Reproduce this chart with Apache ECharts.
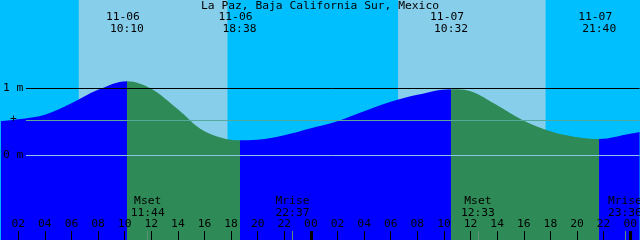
<!DOCTYPE html>
<html><head><meta charset="utf-8">
<script src="https://cdn.jsdelivr.net/npm/echarts@6/dist/echarts.min.js"></script>
<style>html,body{margin:0;padding:0;background:#00BFFF}#c{width:640px;height:240px}</style>
</head><body><div id="c"></div>
<script>
// ---- data ----
const chartTitle = 'La Paz, Baja California Sur, Mexico';
// hours since 11-06 00:00 local
const tideHours  = [0.7, 2, 4, 6, 8, 10.167, 12, 14, 16, 18.633, 20, 22, 24, 26, 28, 30, 32, 34.533, 36, 38, 40, 42, 44, 45.667, 48, 48.7];
const tideLevels = [0.512, 0.54, 0.61, 0.78, 0.98, 1.109, 0.997, 0.69, 0.363, 0.228, 0.236, 0.303, 0.407, 0.512, 0.66, 0.803, 0.907, 0.99, 0.96, 0.75, 0.52, 0.363, 0.273, 0.247, 0.325, 0.352];
const tideEventHours = [10.167, 18.633, 34.533, 45.667];
const tideEventDates = ['11-06', '11-06', '11-07', '11-07'];
const tideEventTimes = ['10:10', '18:38', '10:32', '21:40'];
const highTideHours = [10.167, 34.533];
const lowTideHours  = [18.633, 45.667];
const moonEventHours = [11.733, 22.617, 36.55, 47.6];
const moonEventNames = ['Mset', 'Mrise', 'Mset', 'Mrise'];
const moonEventTimes = ['11:44', '22:37', '12:33', '23:36'];
const sunriseHours = [6.55, 30.55];
const sunsetHours  = [17.73, 41.64];
const hourTickValues = [2,4,6,8,10,12,14,16,18,20,22,24,26,28,30,32,34,36,38,40,42,44,46,48];
const midnightHours = [24, 48];
const levelLineValues = [1, 0.522, 0];
const levelTickValues = [0, 1];

// ---- styles ----
const FONT = '"DejaVu Sans Mono", monospace';
const FS = 11.3;
const NIGHT = '#00BFFF', DAY = '#87CEEB', RISE = '#0000FF', FALL = '#2E8B57';
const lineColors = ['#000000', '#55A89C', '#8CC4E8'];
const xMin = 0.705, xMax = 48.705;
const yMin = -1.2612, yMax = 2.3209;

const chart = echarts.init(document.getElementById('c'), null, {renderer: 'canvas'});
const pad = v => String(Math.round(v) % 24).padStart(2, '0');

const pieces = [];
let prev = -Infinity;
for (let i = 0; i < highTideHours.length; i++) {
  pieces.push({gte: prev, lt: highTideHours[i], color: RISE});
  pieces.push({gte: highTideHours[i], lt: lowTideHours[i], color: FALL});
  prev = lowTideHours[i];
}
pieces.push({gte: prev, lt: Infinity, color: RISE});

const lineStart = xMin + (xMax - xMin) * 25 / 640;

const baseX = {type: 'value', min: xMin, max: xMax, position: 'bottom',
  axisLine: {show: false, onZero: false}, splitLine: {show: false}};

chart.setOption({
  animation: false,
  backgroundColor: NIGHT,
  grid: {left: 0, right: 0, top: 0, bottom: 0, containLabel: false},
  xAxis: [
    Object.assign({}, baseX, {z: 10,
      axisTick: {show: true, inside: true, length: 9, customValues: hourTickValues, lineStyle: {color: '#000', width: 1}},
      axisLabel: {show: true, inside: true, margin: 10, customValues: hourTickValues, formatter: v => pad(v),
        fontFamily: FONT, fontSize: FS, color: '#000'}}),
    Object.assign({}, baseX, {z: 11,
      axisTick: {show: true, inside: true, length: 9, customValues: midnightHours, lineStyle: {color: '#000', width: 3}},
      axisLabel: {show: false}}),
    Object.assign({}, baseX, {z: 11,
      axisTick: {show: true, inside: true, length: 9, customValues: moonEventHours, lineStyle: {color: '#5E8F72', width: 1}},
      axisLabel: {show: false}})
  ],
  yAxis: {type: 'value', min: yMin, max: yMax, z: 10,
    axisLine: {show: false, onZero: false}, axisTick: {show: false}, splitLine: {show: false},
    axisLabel: {show: true, inside: true, margin: 2, customValues: levelTickValues,
      formatter: v => v + ' m', fontFamily: FONT, fontSize: FS, color: '#000'}},
  visualMap: {show: false, type: 'piecewise', dimension: 0, seriesIndex: 1, pieces: pieces},
  series: [
    {type: 'line', data: [], z: 0, silent: true,
      markArea: {silent: true, itemStyle: {color: DAY, opacity: 1},
        data: sunriseHours.map((s, i) => [{xAxis: s}, {xAxis: sunsetHours[i]}])}},
    {type: 'line', z: 2, silent: true, smooth: 0.35, symbol: 'none',
      data: tideHours.map((h, i) => [h, tideLevels[i]]),
      lineStyle: {width: 0}, areaStyle: {opacity: 1, origin: 'start'}},
    {type: 'line', data: [], z: 3, silent: true,
      markLine: {silent: true, symbol: 'none', label: {show: false},
        data: levelLineValues.map((v, i) => [
          {coord: [lineStart, v], lineStyle: {color: lineColors[i], width: 1, type: 'solid'}},
          {coord: [xMax, v]}])}}
  ]
});

const px = h => chart.convertToPixel({xAxisIndex: 0}, h);
const py = v => chart.convertToPixel({yAxisIndex: 0}, v);
const txt = (text, x, y, align) => ({type: 'text', z: 100, silent: true,
  style: {text: text, x: x, y: y, align: align || 'center', verticalAlign: 'middle',
    font: FS + 'px ' + FONT, fill: '#000'}});
const g = [txt(chartTitle, 320, 6)];
tideEventHours.forEach((h, i) => {
  const x = px(h);
  g.push(txt(tideEventDates[i], x - 4, 17));
  g.push(txt(tideEventTimes[i], x, 29));
});
moonEventHours.forEach((h, i) => {
  const x = px(h);
  g.push(txt(moonEventNames[i], x, 201));
  g.push(txt(moonEventTimes[i], x, 213));
});
g.push(txt('+', 13.5, py(levelLineValues[1]) - 1));
chart.setOption({graphic: g});
</script></body></html>
